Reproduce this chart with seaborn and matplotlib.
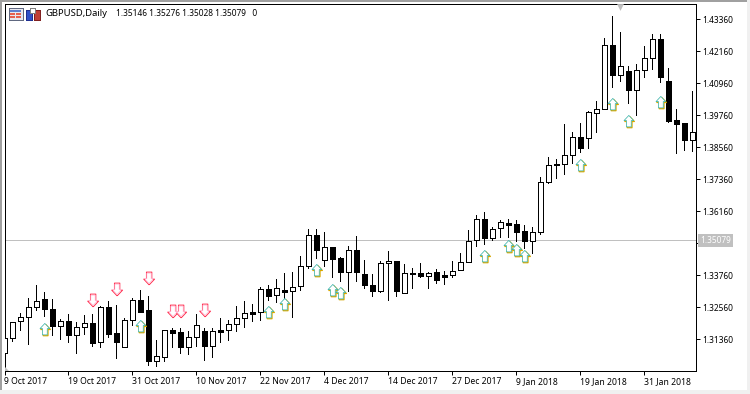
import numpy as np
import pandas as pd
import matplotlib
matplotlib.use("Agg")
import matplotlib.pyplot as plt
from matplotlib.patches import Rectangle, Polygon
from matplotlib.path import Path
import seaborn as sns

# Daily GBPUSD candles
opens = [1.30859, 1.31397, 1.32034, 1.32209, 1.32584, 1.32859, 1.32484, 1.31872, 1.32034, 1.31534,
         1.31834, 1.31959, 1.31247, 1.32559, 1.31584, 1.31084, 1.32072, 1.32822, 1.32447, 1.30559,
         1.30684, 1.31697, 1.31622, 1.31084, 1.31434, 1.31659, 1.31122, 1.31697, 1.31697, 1.31922,
         1.32147, 1.32372, 1.32372, 1.33234, 1.33009, 1.33197, 1.33159, 1.33347, 1.34097, 1.35259,
         1.34322, 1.34809, 1.34397, 1.33872, 1.34697, 1.33797, 1.33384, 1.33159, 1.34209, 1.34284,
         1.33084, 1.33847, 1.33834, 1.33722, 1.33872, 1.33759, 1.33759, 1.33947, 1.34247, 1.35072,
         1.35859, 1.35147, 1.35523, 1.35710, 1.35673, 1.35410, 1.35058, 1.35373, 1.37270, 1.37934,
         1.37923, 1.38260, 1.38935, 1.38920, 1.39858, 1.39985, 1.42385, 1.41283, 1.41410, 1.40720,
         1.41448, 1.41898, 1.42610, 1.41035, 1.39573, 1.39460, 1.38823]
closes = [1.31397, 1.32022, 1.32209, 1.32584, 1.32784, 1.32484, 1.31872, 1.32034, 1.31534, 1.31834,
          1.31959, 1.31234, 1.32559, 1.31572, 1.31272, 1.32072, 1.32822, 1.32397, 1.30559, 1.30722,
          1.31697, 1.31609, 1.31084, 1.31434, 1.31884, 1.31122, 1.31659, 1.31647, 1.31922, 1.32147,
          1.32334, 1.32322, 1.33234, 1.32997, 1.33272, 1.33147, 1.33334, 1.34097, 1.35259, 1.34722,
          1.34809, 1.34384, 1.33872, 1.34697, 1.33897, 1.33384, 1.33159, 1.34209, 1.34284, 1.33159,
          1.33834, 1.33822, 1.33747, 1.33859, 1.33572, 1.33709, 1.33934, 1.34247, 1.35059, 1.35884,
          1.35147, 1.35484, 1.35748, 1.35658, 1.35395, 1.35058, 1.35373, 1.37248, 1.37885, 1.37885,
          1.38260, 1.38935, 1.38545, 1.39873, 1.39985, 1.42385, 1.41283, 1.41598, 1.40720, 1.41448,
          1.41898, 1.42610, 1.41208, 1.39558, 1.39445, 1.38823, 1.39123]
highs = [1.31397, 1.32022, 1.32334, 1.32897, 1.33397, 1.33134, 1.32872, 1.32109, 1.32309, 1.32009,
         1.32272, 1.32309, 1.32622, 1.32797, 1.32647, 1.32147, 1.32897, 1.33209, 1.32984, 1.31334,
         1.31709, 1.31784, 1.31784, 1.31659, 1.32309, 1.31784, 1.31784, 1.32159, 1.32084, 1.32609,
         1.32797, 1.32684, 1.33309, 1.33384, 1.33622, 1.33847, 1.33884, 1.34484, 1.35497, 1.35497,
         1.35372, 1.34809, 1.34434, 1.34847, 1.35234, 1.34322, 1.33809, 1.34297, 1.34672, 1.34284,
         1.34184, 1.34022, 1.34209, 1.33872, 1.33984, 1.33922, 1.34284, 1.34597, 1.35447, 1.36009,
         1.36122, 1.35584, 1.35834, 1.35860, 1.35834, 1.35646, 1.35560, 1.37435, 1.38185, 1.38110,
         1.39434, 1.39123, 1.39471, 1.39921, 1.40296, 1.42659, 1.43484, 1.42884, 1.41598, 1.41684,
         1.42359, 1.42809, 1.42809, 1.41534, 1.39996, 1.39460, 1.40671]
lows = [1.30859, 1.31309, 1.31709, 1.31184, 1.32459, 1.32234, 1.31522, 1.31372, 1.31259, 1.30847,
        1.31559, 1.31109, 1.31072, 1.31447, 1.30659, 1.31084, 1.31909, 1.32397, 1.30397, 1.30359,
        1.30547, 1.31072, 1.30847, 1.30809, 1.31109, 1.30584, 1.30697, 1.31259, 1.31334, 1.31672,
        1.31822, 1.32059, 1.32097, 1.32834, 1.32759, 1.32709, 1.32209, 1.33209, 1.34047, 1.34397,
        1.34109, 1.33697, 1.33559, 1.33184, 1.33559, 1.33297, 1.32997, 1.33122, 1.32847, 1.32997,
        1.33084, 1.33297, 1.33709, 1.33297, 1.33459, 1.33447, 1.33684, 1.33947, 1.34247, 1.34872,
        1.34922, 1.35072, 1.35208, 1.35208, 1.35046, 1.34795, 1.34585, 1.35320, 1.37233, 1.37420,
        1.37559, 1.37971, 1.38395, 1.38534, 1.39134, 1.39985, 1.40821, 1.41058, 1.40221, 1.39771,
        1.41196, 1.41496, 1.41009, 1.39509, 1.38358, 1.38459, 1.38433]

# Indicator arrows: candle number and price
up_idx = [5, 17, 33, 35, 39, 41, 42, 60, 63, 64, 65, 72, 76, 78, 82]
up_price = [1.31746, 1.31859, 1.32384, 1.32684, 1.33959, 1.33209, 1.33096, 1.34484, 1.34859, 1.34709,
            1.34484, 1.37896, 1.40184, 1.39546, 1.40259]
down_idx = [11, 14, 18, 21, 22, 25]
down_price = [1.32834, 1.33246, 1.33659, 1.32421, 1.32421, 1.32459]

date_labels = ["9 Oct 2017", "19 Oct 2017", "31 Oct 2017", "10 Nov 2017", "22 Nov 2017", "4 Dec 2017",
               "14 Dec 2017", "27 Dec 2017", "9 Jan 2018", "19 Jan 2018", "31 Jan 2018"]
price_ticks = [1.43360, 1.42160, 1.40960, 1.39760, 1.38560, 1.37360, 1.36160, 1.34960, 1.33760, 1.32560, 1.31360]
bid = 1.35079
symbol = "GBPUSD,Daily"
ohlc_text = "1.35146 1.35276 1.35028 1.35079   0"

W, H = 750, 394
PX = 0.72  # one pixel in points

sns.set_style("white")
plt.rcParams["font.family"] = ["Noto Sans", "DejaVu Sans"]
plt.rcParams["font.size"] = 6

candles = pd.DataFrame({"idx": range(len(opens)), "open": opens, "close": closes, "high": highs, "low": lows})
candles["up"] = candles["close"] >= candles["open"]
wicks = candles.melt(id_vars="idx", value_vars=["high", "low"], value_name="price")


def arrow_path(dx, dy, flip=False):
    pts = np.array([[0, 1], [0.85, 0.1], [0.42, 0.1], [0.42, -1], [-0.42, -1], [-0.42, 0.1], [-0.85, 0.1], [0, 1]])
    if flip:
        pts = pts * [1, -1]
    # keep the outline scale the same when it gets shifted
    return Path(pts + [dx, dy])


fig = plt.figure(figsize=(W / 100, H / 100), dpi=100, facecolor="white")
ax = fig.add_axes([4.5 / W, (H - 371) / H, 691 / W, 367 / H])

ax.axhline(bid, color="#c0c0c0", lw=PX, zorder=1, antialiased=False)

sns.lineplot(data=wicks, x="idx", y="price", units="idx", estimator=None, color="black", lw=PX,
             legend=False, ax=ax, zorder=2, antialiased=False)

ups = candles[candles["up"]]
downs = candles[~candles["up"]]
ax.bar(ups["idx"], ups["close"] - ups["open"], bottom=ups["open"], width=0.56, color="white",
       edgecolor="black", linewidth=PX, zorder=3, antialiased=False)
ax.bar(downs["idx"], downs["open"] - downs["close"], bottom=downs["close"], width=0.56, color="black",
       edgecolor="black", linewidth=PX, zorder=3, antialiased=False)

# arrows are two offset outlines, that gives the coloured fringe of the original
up_df = pd.DataFrame({"idx": up_idx, "price": up_price})
down_df = pd.DataFrame({"idx": down_idx, "price": down_price})
sns.scatterplot(data=up_df, x="idx", y="price", marker=arrow_path(0.2, -0.1), s=80, color="white",
                edgecolor="#d8a800", linewidth=0.9, legend=False, ax=ax, zorder=4)
sns.scatterplot(data=up_df, x="idx", y="price", marker=arrow_path(0.06, 0.06), s=76, color="white",
                edgecolor="#30b0a8", linewidth=0.5, legend=False, ax=ax, zorder=5)
sns.scatterplot(data=down_df, x="idx", y="price", marker=arrow_path(0.1, 0, True), s=85, color="white",
                edgecolor="#ff3050", linewidth=0.7, legend=False, ax=ax, zorder=4)
sns.scatterplot(data=down_df, x="idx", y="price", marker=arrow_path(0.1, 0.05, True), s=58, color="white",
                edgecolor="#ffb8d8", linewidth=0.4, legend=False, ax=ax, zorder=5)

ax.set_xlim(0.03, 86.405)
ax.set_ylim(1.30171, 1.43934)
ax.set_xlabel("")
ax.set_ylabel("")
for side in ax.spines.values():
    side.set_linewidth(PX)
    side.set_color("black")

ax.yaxis.tick_right()
ax.set_yticks(price_ticks)
ax.set_yticklabels(["%.5f" % p for p in price_ticks])
ax.set_xticks(range(0, 8 * len(date_labels), 8))
ax.set_xticklabels(date_labels, ha="left")
ax.tick_params(axis="both", length=3, width=PX, color="black", labelsize=6, labelcolor="black")
ax.tick_params(axis="x", pad=1.5, bottom=True, labelsize=6.2)
ax.tick_params(axis="y", pad=2, right=True)

# bid label over the price scale
ax.annotate("%.5f" % bid, xy=(1, bid), xycoords=("axes fraction", "data"), xytext=(3.2, 0),
            textcoords="offset points", va="center", ha="left", color="white", fontsize=6, zorder=10,
            annotation_clip=False,
            bbox=dict(boxstyle="square,pad=0.25", fc="#c0c0c0", ec="#c0c0c0", lw=0))

ax.text(0.0596, 0.974, symbol, transform=ax.transAxes, fontsize=6.8, va="center", ha="left", color="black")
ax.text(0.1614, 0.974, ohlc_text, transform=ax.transAxes, fontsize=6, va="center", ha="left", color="black")

# small grey markers of the terminal: shift arrow at the top, chart-end mark at the lower left
ax.scatter([77], [1.4384], marker="v", s=24, color="#c0c0c0", linewidth=0, zorder=6, clip_on=False)


def px_rect(x, y, w, h, fc, ec="none"):
    fig.add_artist(Rectangle((x / W, 1 - (y + h) / H), w / W, h / H, transform=fig.transFigure,
                             fc=fc, ec=ec, lw=PX, antialiased=False))


fig.add_artist(Polygon([(5 / W, 1 - 367 / H), (5 / W, 1 - 371 / H), (9 / W, 1 - 371 / H)],
                       transform=fig.transFigure, fc="#c0c0c0", ec="none"))

# window edges
px_rect(0, 0, W, 2, "#a0a0a0")
px_rect(0, 0, 2, H, "#a0a0a0")
px_rect(0, 390, W, 4, "#f0f0f0")
px_rect(747, 0, 3, H, "#f0f0f0")

# toolbar icons in the corner
px_rect(8.5, 8.5, 14, 11, "#e8e8f0", "#606880")
px_rect(10, 10, 11, 2, "#6080d0")
px_rect(10, 13, 5, 1.5, "#e86050")
px_rect(16, 13, 5, 1.5, "#e86050")
px_rect(10, 16, 5, 1.5, "#e86050")
px_rect(16, 16, 5, 1.5, "#e86050")
px_rect(25.5, 9.5, 6, 10, "#3050c8", "#203090")
px_rect(33.5, 9.5, 6, 10, "#c04038", "#802020")
px_rect(30, 8.5, 5, 4, "white", "#808080")

fig.savefig("out.png", dpi=100, facecolor="white")
plt.close(fig)
